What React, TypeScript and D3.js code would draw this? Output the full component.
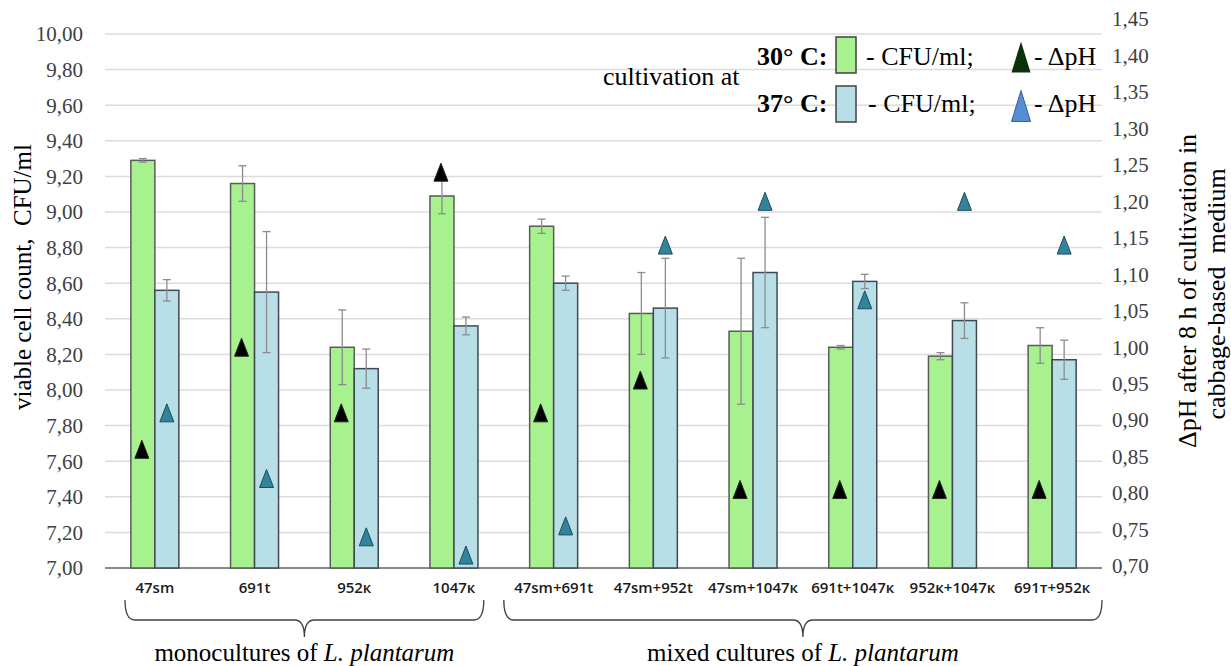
import React from "react";
import * as d3 from "d3";

// strains / combinations on the x axis
const categories = [
  "47sm", "691t", "952к", "1047к",
  "47sm+691t", "47sm+952t", "47sm+1047к", "691t+1047к", "952к+1047к", "691т+952к",
];
// viable cell count (log CFU/ml) and error, 30 °C and 37 °C
const cfu30 = [9.29, 9.16, 8.24, 9.09, 8.92, 8.43, 8.33, 8.24, 8.19, 8.25];
const err30 = [0.01, 0.1, 0.21, 0.1, 0.04, 0.23, 0.41, 0.01, 0.02, 0.1];
const cfu37 = [8.56, 8.55, 8.12, 8.36, 8.6, 8.46, 8.66, 8.61, 8.39, 8.17];
const err37 = [0.06, 0.34, 0.11, 0.05, 0.04, 0.28, 0.31, 0.04, 0.1, 0.11];
// delta pH after 8 h
const dph30 = [0.86, 1.0, 0.91, 1.24, 0.91, 0.955, 0.805, 0.805, 0.805, 0.805];
const dph37 = [0.91, 0.82, 0.74, 0.715, 0.755, 1.14, 1.2, 1.065, 1.2, 1.14];

const groups = [
  { label: "monocultures of ", from: "47sm", to: "1047к" },
  { label: "mixed cultures of ", from: "47sm+691t", to: "691т+952к" },
];

const W = 1231;
const H = 666;
const serif = "'Liberation Serif', 'Times New Roman', serif";
const sans = "'Open Sans', 'Noto Sans', sans-serif";

const fmt = d3.formatLocale({ decimal: ",", thousands: " ", grouping: [3], currency: ["", ""] }).format(".2f");

export default function App() {
  const x0 = d3.scaleBand().domain(categories).range([105, 1102]);
  const x1 = d3.scaleBand().domain(["30", "37"]).range([0, 48]);
  const off = (x0.bandwidth() - 48) / 2;
  const yL = d3.scaleLinear().domain([7, 10]).range([568, 34]);
  const yR = d3.scaleLinear().domain([0.7, 1.45]).range([566, 19]);

  const tri = (cx: number, cy: number, w: number, h: number) =>
    `M${cx},${cy - h / 2}L${cx + w / 2},${cy + h / 2}L${cx - w / 2},${cy + h / 2}Z`;

  const series = [
    { key: "30", vals: cfu30, errs: err30, fill: "#a7f18f", stroke: "#5a5a5a" },
    { key: "37", vals: cfu37, errs: err37, fill: "#b8dee8", stroke: "#3f4a50" },
  ];

  const brace = (a: number, b: number) => {
    const m = (a + b) / 2;
    const t = 600, l = 620, tip = 637;
    return `M${a},${t}Q${a},${l} ${a + 10},${l}L${m - 10},${l}Q${m},${l} ${m},${tip}Q${m},${l} ${m + 10},${l}L${b - 10},${l}Q${b},${l} ${b},${t}`;
  };

  const pre = { whiteSpace: "pre" as const };

  return (
    <svg width={W} height={H} style={{ position: "absolute", left: 0, top: 0, background: "#fff" }}>
      {/* gridlines */}
      {yL.ticks(15).map((t) => (
        <line key={t} x1={105} x2={1102} y1={yL(t)} y2={yL(t)} stroke={t === 7 ? "#8a8a8a" : "#dcdcdc"} strokeWidth={t === 7 ? 2 : 1.5} />
      ))}
      {/* left ticks */}
      {yL.ticks(15).map((t) => (
        <text key={t} x={83} y={yL(t)} dy="0.35em" textAnchor="end" fontFamily={serif} fontSize={21} fill="#404040">
          {fmt(t)}
        </text>
      ))}
      {/* right ticks */}
      {yR.ticks(15).map((t) => (
        <text key={t} x={1112} y={yR(t)} dy="0.35em" fontFamily={serif} fontSize={21} fill="#404040">
          {fmt(t)}
        </text>
      ))}

      {/* bars */}
      {series.map((s) =>
        categories.map((c, i) => {
          const bx = (x0(c) as number) + off + (x1(s.key) as number);
          return (
            <rect key={s.key + c} x={bx} y={yL(s.vals[i])} width={x1.bandwidth()} height={568 - yL(s.vals[i])} fill={s.fill} stroke={s.stroke} strokeWidth={1.5} />
          );
        })
      )}
      {/* error bars */}
      {series.map((s) =>
        categories.map((c, i) => {
          const cx = (x0(c) as number) + off + (x1(s.key) as number) + x1.bandwidth() / 2;
          const y1 = yL(s.vals[i] + s.errs[i]);
          const y2 = yL(s.vals[i] - s.errs[i]);
          return (
            <g key={"e" + s.key + c} stroke="#8c8c8c" strokeWidth={1.3}>
              <line x1={cx} x2={cx} y1={y1} y2={y2} />
              <line x1={cx - 4} x2={cx + 4} y1={y1} y2={y1} />
              <line x1={cx - 4} x2={cx + 4} y1={y2} y2={y2} />
            </g>
          );
        })
      )}
      {/* delta pH markers */}
      {categories.map((c, i) => {
        const g = (x0(c) as number) + off;
        const bw = x1.bandwidth();
        return (
          <g key={"m" + c}>
            <path d={tri(g + (x1("30") as number) + bw / 2 - 1, yR(dph30[i]), 14, 18)} fill="#000" stroke="#222" />
            <path d={tri(g + (x1("37") as number) + bw / 2, yR(dph37[i]), 14, 18)} fill="#31849b" stroke="#1d4d5c" />
          </g>
        );
      })}

      {/* x labels */}
      {categories.map((c) => (
        <text key={"x" + c} x={(x0(c) as number) + x0.bandwidth() / 2} y={593} textAnchor="middle" fontFamily={sans} fontWeight={600} fontSize={15} fill="#1a1a1a">
          {c}
        </text>
      ))}

      {/* group braces */}
      {groups.map((gr, i) => {
        const a = (x0(gr.from) as number) + (i === 0 ? 20 : 0);
        const b = (x0(gr.to) as number) + x0.bandwidth() - (i === 0 ? 20 : 0);
        return (
          <g key={gr.label}>
            <path d={brace(a, b)} fill="none" stroke="#404040" strokeWidth={1.3} />
            <text x={(a + b) / 2} y={661} textAnchor="middle" fontFamily={serif} fontSize={25} fill="#000" style={pre}>
              {gr.label}
              <tspan fontStyle="italic">L. plantarum</tspan>
            </text>
          </g>
        );
      })}

      {/* axis titles */}
      <text transform="translate(31,277) rotate(-90)" textAnchor="middle" fontFamily={serif} fontSize={25} fill="#000" style={pre}>
        {"viable cell count,  CFU/ml"}
      </text>
      <text transform="translate(1196,291) rotate(-90)" textAnchor="middle" fontFamily={serif} fontSize={26} fill="#000" style={pre}>
        {"ΔpH after 8 h of cultivation in"}
      </text>
      <text transform="translate(1225,294) rotate(-90)" textAnchor="middle" fontFamily={serif} fontSize={26} fill="#000" style={pre}>
        {"cabbage-based  medium"}
      </text>

      {/* legend */}
      <g fontFamily={serif} fontSize={26} fill="#000">
        <text x={603} y={85}>cultivation at</text>
        <text x={757} y={65} fontWeight="bold">30° C:</text>
        <rect x={836} y={37} width={20} height={36} fill="#a7f18f" stroke="#404040" strokeWidth={1.5} />
        <text x={866} y={65}>- CFU/ml;</text>
        <path d={tri(1021, 57, 19, 31)} fill="#0b330b" />
        <text x={1034} y={65}>- ΔpH</text>
        <text x={757} y={112} fontWeight="bold">37° C:</text>
        <rect x={836} y={86} width={20} height={36} fill="#b8dee8" stroke="#404040" strokeWidth={1.5} />
        <text x={868} y={112}>- CFU/ml;</text>
        <path d={tri(1021, 106, 19, 31)} fill="#558ed5" stroke="#3a5f8f" />
        <text x={1034} y={112}>- ΔpH</text>
      </g>
    </svg>
  );
}
